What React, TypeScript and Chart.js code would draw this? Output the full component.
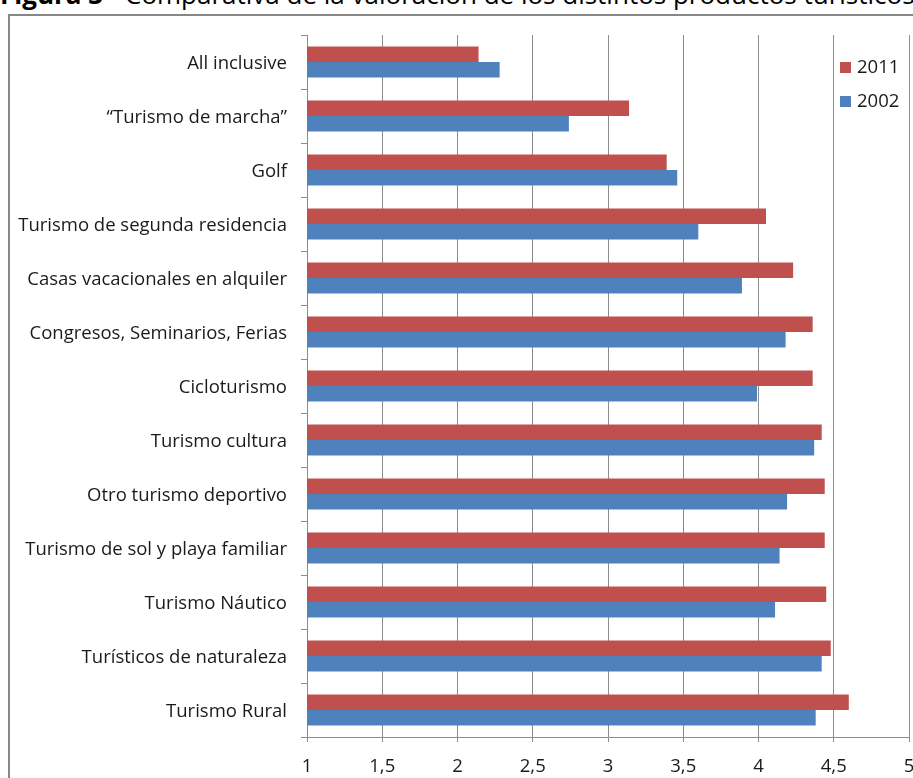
import React, { useEffect, useRef } from "react";
import { Chart, registerables } from "chart.js";

Chart.register(...registerables);

const categories = [
  "All inclusive",
  "“Turismo de marcha”",
  "Golf",
  "Turismo de segunda residencia",
  "Casas vacacionales en alquiler",
  "Congresos, Seminarios, Ferias",
  "Cicloturismo",
  "Turismo cultura",
  "Otro turismo deportivo",
  "Turismo de sol y playa familiar",
  "Turismo Náutico",
  "Turísticos de naturaleza",
  "Turismo Rural",
];

const values2011 = [2.14, 3.14, 3.39, 4.05, 4.23, 4.36, 4.36, 4.42, 4.44, 4.44, 4.45, 4.48, 4.6];
const values2002 = [2.28, 2.74, 3.46, 3.6, 3.89, 4.18, 3.99, 4.37, 4.19, 4.14, 4.11, 4.42, 4.38];

const seriesLabels = ["2011", "2002"];
const seriesColors = ["#C0504D", "#4F81BD"];

const xTickLabels = ["1", "1,5", "2", "2,5", "3", "3,5", "4", "4,5", "5"];

const FONT = "'Open Sans', sans-serif";
const FONT_SIZE = 18.5;

const legendPlugin = {
  id: "insideLegend",
  afterDraw(chart: any) {
    const ctx = chart.ctx;
    const ds = chart.data.datasets;
    ctx.save();
    ctx.font = `${FONT_SIZE}px ${FONT}`;
    ctx.textBaseline = "middle";
    ctx.textAlign = "left";
    ds.forEach((d: any, i: number) => {
      const cy = 68 + i * 34;
      ctx.fillStyle = d.backgroundColor;
      ctx.fillRect(840, cy - 6, 11, 11);
      ctx.fillStyle = "#1a1a1a";
      ctx.fillText(d.label, 857, cy);
    });
    ctx.restore();
  },
};

export default function App() {
  const ref = useRef<HTMLCanvasElement>(null);

  useEffect(() => {
    if (!ref.current) return;
    const chart = new Chart(ref.current, {
      type: "bar",
      data: {
        labels: categories,
        datasets: [
          {
            label: seriesLabels[0],
            data: values2011,
            backgroundColor: seriesColors[0],
            categoryPercentage: 0.574,
            barPercentage: 1,
          },
          {
            label: seriesLabels[1],
            data: values2002,
            backgroundColor: seriesColors[1],
            categoryPercentage: 0.574,
            barPercentage: 1,
          },
        ],
      },
      options: {
        indexAxis: "y",
        responsive: false,
        animation: false,
        layout: { padding: { left: 0, top: 35, right: 31, bottom: 23 } },
        plugins: {
          legend: { display: false },
          tooltip: { enabled: false },
        },
        scales: {
          x: {
            min: 1,
            max: 5,
            afterFit: (s: any) => {
              s.height = 40;
            },
            ticks: {
              stepSize: 0.5,
              padding: 14,
              color: "#1a1a1a",
              font: { family: FONT, size: FONT_SIZE },
              callback: (_v: any, i: number) => xTickLabels[i],
            },
            grid: {
              color: "#8c8c8c",
              lineWidth: 1,
              tickLength: 5,
            },
            border: { display: true, color: "#8c8c8c", width: 1 },
          },
          y: {
            afterFit: (s: any) => {
              s.width = 307;
            },
            ticks: {
              padding: 14,
              labelOffset: 2,
              color: "#1a1a1a",
              font: { family: FONT, size: FONT_SIZE },
            },
            grid: {
              offset: true,
              drawOnChartArea: false,
              tickLength: 6,
              color: "#8c8c8c",
            },
            border: { display: true, color: "#8c8c8c", width: 1 },
          },
        },
      },
      plugins: [legendPlugin],
    } as any);
    return () => chart.destroy();
  }, []);

  return (
    <div
      style={{
        position: "fixed",
        left: 0,
        top: 0,
        width: 913,
        height: 778,
        overflow: "hidden",
        background: "#fff",
      }}
    >
      <div
        style={{
          position: "absolute",
          left: 0,
          top: -23,
          whiteSpace: "nowrap",
          fontFamily: FONT,
          fontSize: 26,
          lineHeight: "35px",
          color: "#000",
        }}
      >
        <b>Figura 3</b> - Comparativa de la valoración de los distintos productos turísticos
      </div>
      <div
        style={{
          position: "absolute",
          left: 8,
          top: 14,
          width: 1000,
          height: 1000,
          border: "2px solid #878787",
          boxSizing: "border-box",
        }}
      />
      <canvas
        ref={ref}
        width={940}
        height={800}
        style={{ position: "absolute", left: 0, top: 0, width: 940, height: 800 }}
      />
    </div>
  );
}
